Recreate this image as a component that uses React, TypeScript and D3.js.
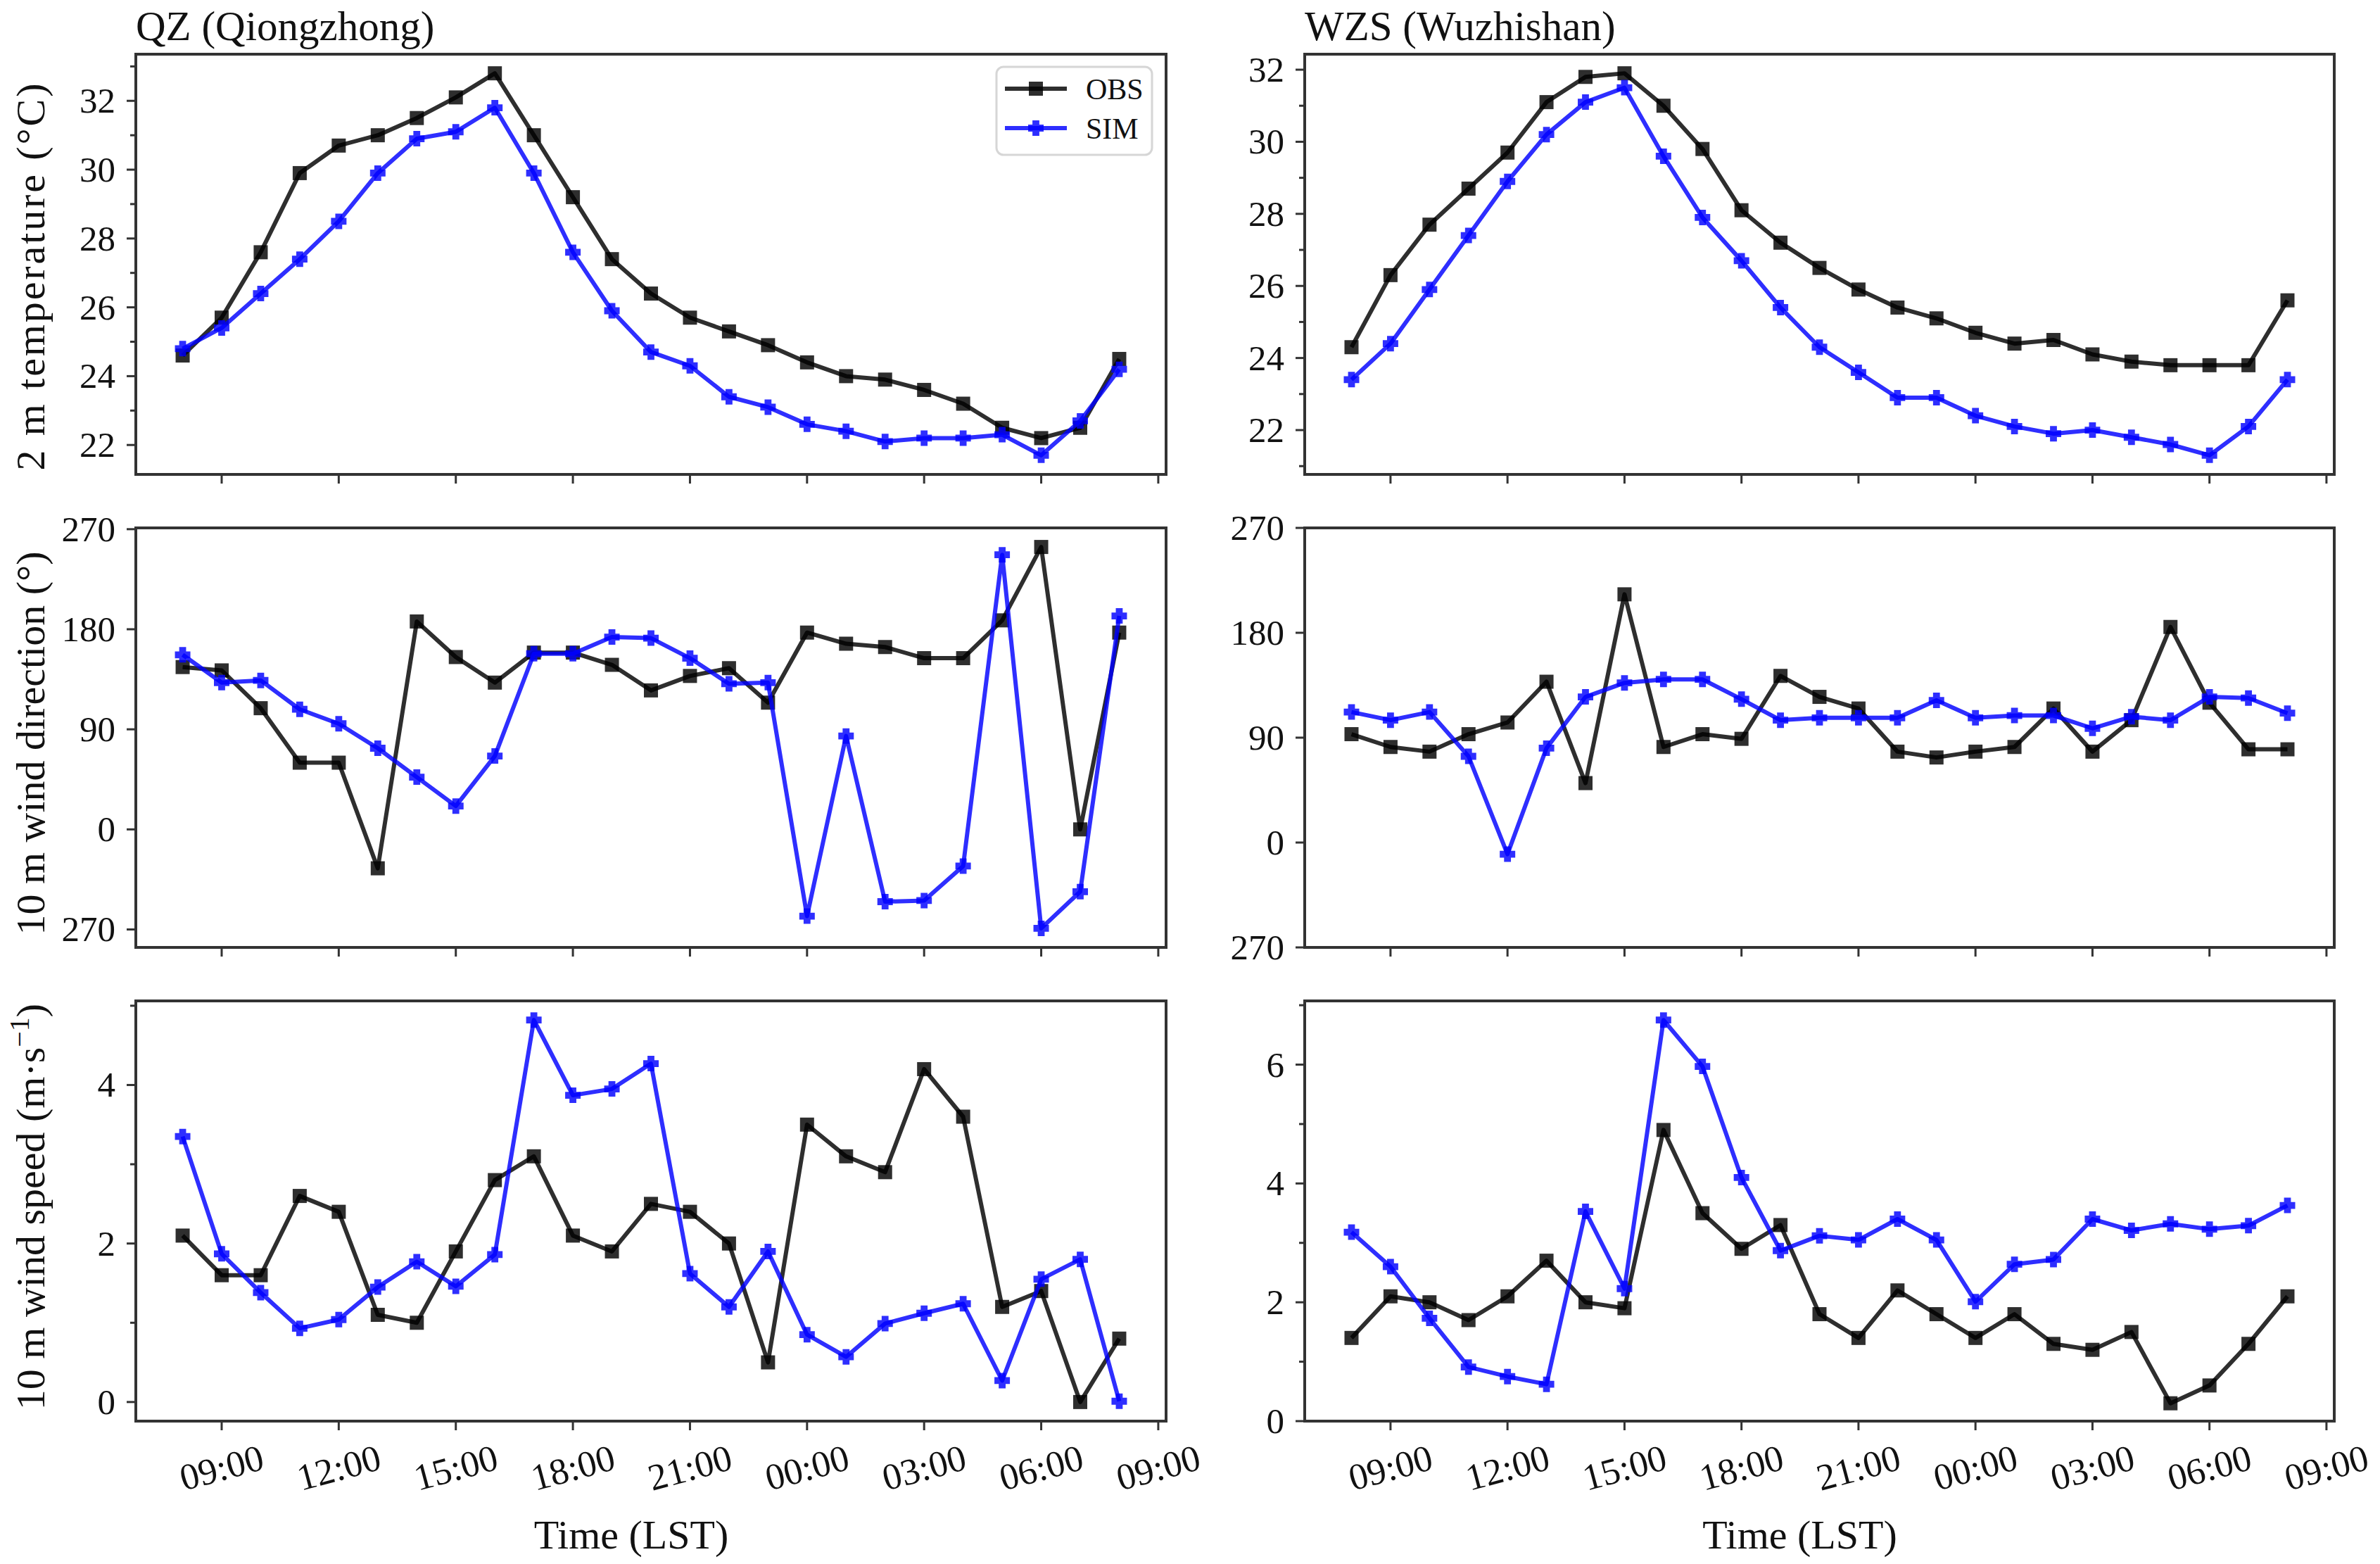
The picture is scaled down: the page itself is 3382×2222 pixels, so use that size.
import React from "react";
import * as d3 from "d3";

// ---------- data ----------
const hours = [8, 9, 10, 11, 12, 13, 14, 15, 16, 17, 18, 19, 20, 21, 22, 23, 24, 25, 26, 27, 28, 29, 30, 31, 32];
const xTicks = [9, 12, 15, 18, 21, 24, 27, 30, 33];

const tempObsQZ = [24.6, 25.7, 27.6, 29.9, 30.7, 31.0, 31.5, 32.1, 32.8, 31.0, 29.2, 27.4, 26.4, 25.7, 25.3, 24.9, 24.4, 24.0, 23.9, 23.6, 23.2, 22.5, 22.2, 22.5, 24.5];
const tempSimQZ = [24.8, 25.4, 26.4, 27.4, 28.5, 29.9, 30.9, 31.1, 31.8, 29.9, 27.6, 25.9, 24.7, 24.3, 23.4, 23.1, 22.6, 22.4, 22.1, 22.2, 22.2, 22.3, 21.7, 22.7, 24.2];
const tempObsWZS = [24.3, 26.3, 27.7, 28.7, 29.7, 31.1, 31.8, 31.9, 31.0, 29.8, 28.1, 27.2, 26.5, 25.9, 25.4, 25.1, 24.7, 24.4, 24.5, 24.1, 23.9, 23.8, 23.8, 23.8, 25.6];
const tempSimWZS = [23.4, 24.4, 25.9, 27.4, 28.9, 30.2, 31.1, 31.5, 29.6, 27.9, 26.7, 25.4, 24.3, 23.6, 22.9, 22.9, 22.4, 22.1, 21.9, 22.0, 21.8, 21.6, 21.3, 22.1, 23.4];

const dirObsQZ = [146, 143, 109, 60, 60, -35, 187, 155, 132, 159, 159, 148, 125, 138, 145, 114, 177, 167, 164, 154, 154, 188, 254, 0, 177];
const dirSimQZ = [157, 132, 134, 108, 95, 73, 47, 21, 66, 158, 158, 173, 172, 154, 131, 132, -78, 84, -65, -64, -33, 247, -89, -56, 192];
const dirObsWZS = [93, 82, 78, 93, 103, 138, 51, 213, 82, 93, 89, 143, 125, 115, 78, 73, 78, 82, 115, 78, 105, 185, 120, 80, 80];
const dirSimWZS = [112, 105, 112, 74, -10, 81, 125, 137, 140, 140, 123, 105, 107, 107, 107, 122, 107, 109, 109, 98, 108, 105, 125, 124, 111];

const spdObsQZ = [2.1, 1.6, 1.6, 2.6, 2.4, 1.1, 1.0, 1.9, 2.8, 3.1, 2.1, 1.9, 2.5, 2.4, 2.0, 0.5, 3.5, 3.1, 2.9, 4.2, 3.6, 1.2, 1.4, 0.0, 0.8];
const spdSimQZ = [3.35, 1.87, 1.38, 0.93, 1.04, 1.45, 1.77, 1.46, 1.86, 4.82, 3.87, 3.95, 4.27, 1.62, 1.2, 1.9, 0.85, 0.57, 0.99, 1.12, 1.24, 0.27, 1.55, 1.8, 0.01];
const spdObsWZS = [1.4, 2.1, 2.0, 1.7, 2.1, 2.7, 2.0, 1.9, 4.9, 3.5, 2.9, 3.3, 1.8, 1.4, 2.2, 1.8, 1.4, 1.8, 1.3, 1.2, 1.5, 0.3, 0.6, 1.3, 2.1];
const spdSimWZS = [3.18, 2.6, 1.73, 0.91, 0.75, 0.62, 3.53, 2.23, 6.75, 5.97, 4.1, 2.87, 3.12, 3.05, 3.4, 3.05, 2.01, 2.64, 2.72, 3.4, 3.21, 3.32, 3.23, 3.29, 3.63];

const tempTicks = [22, 24, 26, 28, 30, 32];
const tempMinor = [21, 23, 25, 27, 29, 31, 33];
const dirTicks = [-90, 0, 90, 180, 270];
const spdTicksQZ = [0, 2, 4];
const spdMinorQZ = [1, 3, 5];
const spdTicksWZS = [0, 2, 4, 6];
const spdMinorWZS = [1, 3, 5, 7];

const titles = ["QZ (Qiongzhong)", "WZS (Wuzhishan)"];
const seriesNames = ["OBS", "SIM"];

// ---------- layout / style ----------
const W = 3382;
const H = 2222;
const FONT = "'Liberation Serif', 'Times New Roman', serif";
const colX = [[193, 1657], [1854, 3317]];
const rowY = [[77, 674], [750, 1346], [1422, 2019]];
const OBS_COLOR = "#000000";
const SIM_COLOR = "#0000ff";
const ALPHA = 0.82;
const SPINE = "#333333";

function autoLim(arrs: number[][], fixedMin?: number): [number, number] {
  const all = arrs.flat();
  const mn = d3.min(all) as number;
  const mx = d3.max(all) as number;
  const pad = 0.05 * (mx - mn);
  return [fixedMin !== undefined ? fixedMin : mn - pad, mx + pad];
}

const xSpan = hours[hours.length - 1] - hours[0];
const xDomain: [number, number] = [hours[0] - 0.05 * xSpan, hours[hours.length - 1] + 0.05 * xSpan];

const fmtHour = (h: number) => String(h % 24).padStart(2, "0") + ":00";
const fmtDir = (v: number) => String(((v % 360) + 360) % 360);
const fmtNum = (v: number) => String(v);

type Panel = {
  row: number;
  col: number;
  obs: number[];
  sim: number[];
  yDomain: [number, number];
  ticks: number[];
  minor: number[];
  fmt: (v: number) => string;
};

const panels: Panel[] = [
  { row: 0, col: 0, obs: tempObsQZ, sim: tempSimQZ, yDomain: autoLim([tempObsQZ, tempSimQZ]), ticks: tempTicks, minor: tempMinor, fmt: fmtNum },
  { row: 0, col: 1, obs: tempObsWZS, sim: tempSimWZS, yDomain: autoLim([tempObsWZS, tempSimWZS]), ticks: tempTicks, minor: tempMinor, fmt: fmtNum },
  { row: 1, col: 0, obs: dirObsQZ, sim: dirSimQZ, yDomain: autoLim([dirObsQZ, dirSimQZ]), ticks: dirTicks, minor: [], fmt: fmtDir },
  { row: 1, col: 1, obs: dirObsWZS, sim: dirSimWZS, yDomain: [-90, 270], ticks: dirTicks, minor: [], fmt: fmtDir },
  { row: 2, col: 0, obs: spdObsQZ, sim: spdSimQZ, yDomain: autoLim([spdObsQZ, spdSimQZ]), ticks: spdTicksQZ, minor: spdMinorQZ, fmt: fmtNum },
  { row: 2, col: 1, obs: spdObsWZS, sim: spdSimWZS, yDomain: autoLim([spdObsWZS, spdSimWZS], 0), ticks: spdTicksWZS, minor: spdMinorWZS, fmt: fmtNum },
];

const plusPath = (s: number) => {
  const h = s / 2;
  const t = s / 4.5;
  return `M${-t},${-h}L${t},${-h}L${t},${-t}L${h},${-t}L${h},${t}L${t},${t}L${t},${h}L${-t},${h}L${-t},${t}L${-h},${t}L${-h},${-t}L${-t},${-t}Z`;
};

function PanelView({ p }: { p: Panel }) {
  const [x0, x1] = colX[p.col];
  const [y0, y1] = rowY[p.row];
  const x = d3.scaleLinear().domain(xDomain).range([x0, x1]);
  const y = d3.scaleLinear().domain(p.yDomain).range([y1, y0]);
  const line = d3
    .line<number>()
    .x((_, i) => x(hours[i]))
    .y((d) => y(d));
  const inY = (v: number) => v >= p.yDomain[0] - 1e-9 && v <= p.yDomain[1] + 1e-9;
  const majorLen = 13;
  const minorLen = 8;
  const isBottom = p.row === 2;
  return (
    <g>
      <defs>
        <clipPath id={`clip-${p.row}-${p.col}`}>
          <rect x={x0} y={y0} width={x1 - x0} height={y1 - y0} />
        </clipPath>
      </defs>
      <g clipPath={`url(#clip-${p.row}-${p.col})`}>
        <path d={line(p.obs) || ""} fill="none" stroke={OBS_COLOR} strokeOpacity={ALPHA} strokeWidth={6} strokeLinejoin="round" />
        {p.obs.map((v, i) => (
          <rect key={"o" + i} x={x(hours[i]) - 10} y={y(v) - 10} width={20} height={20} fill={OBS_COLOR} fillOpacity={ALPHA} />
        ))}
        <path d={line(p.sim) || ""} fill="none" stroke={SIM_COLOR} strokeOpacity={ALPHA} strokeWidth={6} strokeLinejoin="round" />
        {p.sim.map((v, i) => (
          <path key={"s" + i} d={plusPath(22)} transform={`translate(${x(hours[i])},${y(v)})`} fill={SIM_COLOR} fillOpacity={ALPHA} />
        ))}
      </g>
      <rect x={x0} y={y0} width={x1 - x0} height={y1 - y0} fill="none" stroke={SPINE} strokeWidth={4} />
      {p.minor.filter(inY).map((t) => (
        <line key={"ym" + t} x1={x0} x2={x0 - minorLen} y1={y(t)} y2={y(t)} stroke={SPINE} strokeWidth={3} />
      ))}
      {p.ticks.filter(inY).map((t) => (
        <g key={"y" + t}>
          <line x1={x0} x2={x0 - majorLen} y1={y(t)} y2={y(t)} stroke={SPINE} strokeWidth={3} />
          <text x={x0 - 29} y={y(t)} textAnchor="end" dominantBaseline="central" fontSize={51} fontFamily={FONT} fill="#111">
            {p.fmt(t)}
          </text>
        </g>
      ))}
      {xTicks.map((t) => (
        <g key={"x" + t}>
          <line x1={x(t)} x2={x(t)} y1={y1} y2={y1 + majorLen} stroke={SPINE} strokeWidth={3} />
          {isBottom && (
            <text
              transform={`translate(${x(t)},${y1 + 66}) rotate(-15)`}
              textAnchor="middle"
              dominantBaseline="central"
              fontSize={53}
              fontFamily={FONT}
              fill="#111"
            >
              {fmtHour(t)}
            </text>
          )}
        </g>
      ))}
    </g>
  );
}

export default function App() {
  const cx = (c: number) => (colX[c][0] + colX[c][1]) / 2;
  const cy = (r: number) => (rowY[r][0] + rowY[r][1]) / 2;
  return (
    <svg width={W} height={H} style={{ position: "absolute", left: 0, top: 0, background: "#fff" }} xmlns="http://www.w3.org/2000/svg">
      <rect x={0} y={0} width={W} height={H} fill="#fff" />
      {titles.map((t, c) => (
        <text key={t} x={colX[c][0]} y={57} fontSize={59} fontFamily={FONT} fill="#111">
          {t}
        </text>
      ))}
      {panels.map((p) => (
        <PanelView key={`${p.row}-${p.col}`} p={p} />
      ))}
      <text
        transform={`translate(63,${cy(0) + 18}) rotate(-90)`}
        textAnchor="middle"
        fontSize={58}
        fontFamily={FONT}
        fill="#111"
        textLength={550}
        lengthAdjust="spacing"
      >
        2 m temperature (°C)
      </text>
      <text transform={`translate(63,${cy(1) + 8}) rotate(-90)`} textAnchor="middle" fontSize={58} fontFamily={FONT} fill="#111">
        10 m wind direction (°)
      </text>
      <text
        transform={`translate(63,${cy(2) - 6}) rotate(-90)`}
        textAnchor="middle"
        fontSize={58}
        fontFamily={FONT}
        fill="#111"
      >
        <tspan>10 m wind speed (m·s</tspan>
        <tspan dy={-22} fontSize={40}>
          −1
        </tspan>
        <tspan dy={22}>)</tspan>
      </text>
      {[0, 1].map((c) => (
        <text key={"xl" + c} x={cx(c) - 28} y={2200} textAnchor="middle" fontSize={58} fontFamily={FONT} fill="#111">
          Time (LST)
        </text>
      ))}
      <g>
        <rect x={1416} y={95} width={221} height={125} rx={10} fill="#fff" fillOpacity={0.8} stroke="#d6d6d6" strokeWidth={3} />
        <line x1={1428} x2={1516} y1={126} y2={126} stroke={OBS_COLOR} strokeOpacity={ALPHA} strokeWidth={6} />
        <rect x={1462} y={116} width={20} height={20} fill={OBS_COLOR} fillOpacity={ALPHA} />
        <text x={1543} y={141} fontSize={42} fontFamily={FONT} fill="#111">
          {seriesNames[0]}
        </text>
        <line x1={1428} x2={1516} y1={182} y2={182} stroke={SIM_COLOR} strokeOpacity={ALPHA} strokeWidth={6} />
        <path d={plusPath(22)} transform="translate(1472,182)" fill={SIM_COLOR} fillOpacity={ALPHA} />
        <text x={1543} y={197} fontSize={42} fontFamily={FONT} fill="#111">
          {seriesNames[1]}
        </text>
      </g>
    </svg>
  );
}
